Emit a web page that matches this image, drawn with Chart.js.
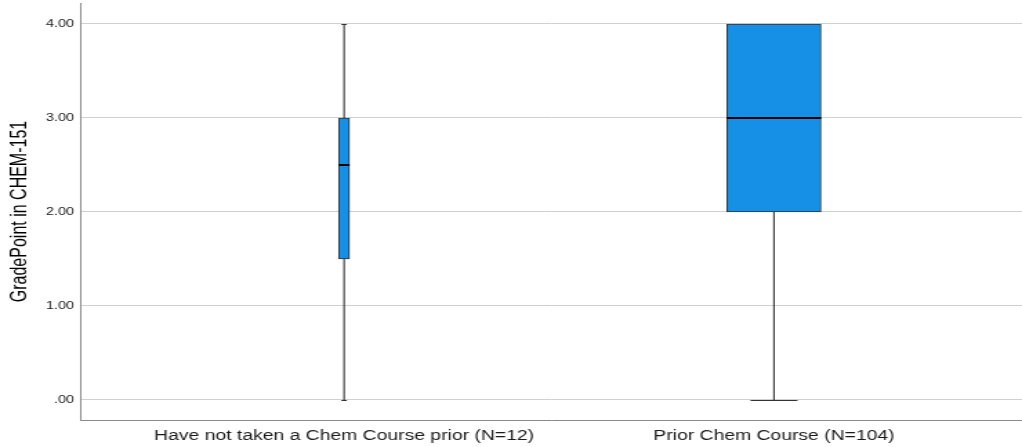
<!DOCTYPE html>
<html>
<head>
<meta charset="utf-8">
<script src="https://cdn.jsdelivr.net/npm/chart.js@4.4.1/dist/chart.umd.min.js"></script>
<style>
  html, body { margin: 0; padding: 0; background: #fff; overflow: hidden; }
  /* the plot is laid out narrow and widened, so text comes out broad like the SPSS export */
  #wrap { width: 740px; height: 447px; transform: scaleX(1.3811); transform-origin: 0 0; }
</style>
</head>
<body>
<div id="wrap"><canvas id="box-chart" width="740" height="447"></canvas></div>
<script>
// Grade point summary per group
const groups = ['Have not taken a Chem Course prior', 'Prior Chem Course'];
const counts = [12, 104];
const mins = [0, 0];
const q1s = [1.5, 2];
const medians = [2.5, 3];
const q3s = [3, 4];
const maxs = [4, 4];
const yTicks = [0, 1, 2, 3, 4];

const STRETCH = 1022 / 740;
const PX_PER_CASE = 0.655;   // box width grows with group size

const labels = groups.map((g, i) => g + ' (N=' + counts[i] + ')');

Chart.defaults.font.family = "'Liberation Sans', Arial, sans-serif";
Chart.defaults.color = '#222';

// whiskers under the boxes, median bars on top
const boxPlotLines = {
    id: 'boxPlotLines',
    beforeDatasetsDraw(chart) {
        const { ctx, scales: { x, y } } = chart;
        ctx.save();
        ctx.strokeStyle = '#333';
        ctx.lineWidth = 1.1;
        groups.forEach((g, i) => {
            const cx = x.getPixelForValue(i + 1);
            const half = counts[i] * PX_PER_CASE / 4;
            const yMin = Math.round(y.getPixelForValue(mins[i])) + 0.5;
            const yMax = Math.round(y.getPixelForValue(maxs[i])) + 0.5;
            ctx.beginPath();
            ctx.moveTo(cx, yMin);
            ctx.lineTo(cx, y.getPixelForValue(q1s[i]));
            ctx.moveTo(cx, y.getPixelForValue(q3s[i]));
            ctx.lineTo(cx, yMax);
            ctx.moveTo(cx - half, yMin);
            ctx.lineTo(cx + half, yMin);
            ctx.moveTo(cx - half, yMax);
            ctx.lineTo(cx + half, yMax);
            ctx.stroke();
        });
        ctx.restore();
    },
    afterDatasetsDraw(chart) {
        const { ctx, scales: { x, y } } = chart;
        ctx.save();
        ctx.strokeStyle = '#000';
        ctx.lineWidth = 2;
        groups.forEach((g, i) => {
            const cx = x.getPixelForValue(i + 1);
            const half = counts[i] * PX_PER_CASE / 2;
            const ym = Math.round(y.getPixelForValue(medians[i]));
            ctx.beginPath();
            ctx.moveTo(cx - half, ym);
            ctx.lineTo(cx + half, ym);
            ctx.stroke();
        });
        ctx.restore();
    }
};

const ctx = document.getElementById('box-chart').getContext('2d');
const boxChart = new Chart(ctx, {
    type: 'bar',
    data: {
        datasets: groups.map((g, i) => ({
            label: g,
            data: [{ x: i + 1, y: [q1s[i], q3s[i]] }],
            barThickness: counts[i] * PX_PER_CASE,
            backgroundColor: '#1590e6',
            borderColor: '#333',
            borderWidth: 1,
            borderSkipped: false,
            grouped: false
        }))
    },
    options: {
        responsive: false,
        animation: false,
        layout: { padding: { top: 3, left: 0, right: 0, bottom: 0 } },
        plugins: {
            legend: { display: false },
            tooltip: { enabled: false }
        },
        scales: {
            x: {
                type: 'linear',
                offset: false,
                min: 0.388,
                max: 2.577,
                grid: { display: false, drawTicks: false, offset: false },
                border: { display: true, color: '#8a8a8a', width: 1 },
                afterBuildTicks: (scale) => {
                    scale.ticks = groups.map((g, i) => ({ value: i + 1 }));
                },
                afterFit: (scale) => {
                    scale.height = 27;
                    scale.paddingLeft = 0;
                    scale.paddingRight = 0;
                },
                ticks: {
                    padding: 8,
                    maxRotation: 0,
                    autoSkip: false,
                    font: { size: 14 },
                    color: '#1a1a1a',
                    callback: (v) => labels[v - 1]
                }
            },
            y: {
                min: -0.213,
                max: 4.223,
                grid: { color: '#d0d0d0', lineWidth: 1, drawTicks: false },
                border: { display: true, color: '#8a8a8a', width: 1 },
                afterBuildTicks: (scale) => {
                    scale.ticks = yTicks.map(v => ({ value: v }));
                },
                afterFit: (scale) => {
                    scale.width = 81 / STRETCH;
                    scale.paddingTop = 0;
                    scale.paddingBottom = 0;
                },
                ticks: {
                    padding: 5,
                    font: { size: 10.5 },
                    color: '#1a1a1a',
                    callback: (v) => v.toFixed(2).replace(/^0/, '')
                },
                title: {
                    display: true,
                    text: 'GradePoint in CHEM-151',
                    font: { size: 16 },
                    color: '#000',
                    padding: { top: 5, bottom: 0 }
                }
            }
        }
    },
    plugins: [boxPlotLines]
});
</script>
</body>
</html>
